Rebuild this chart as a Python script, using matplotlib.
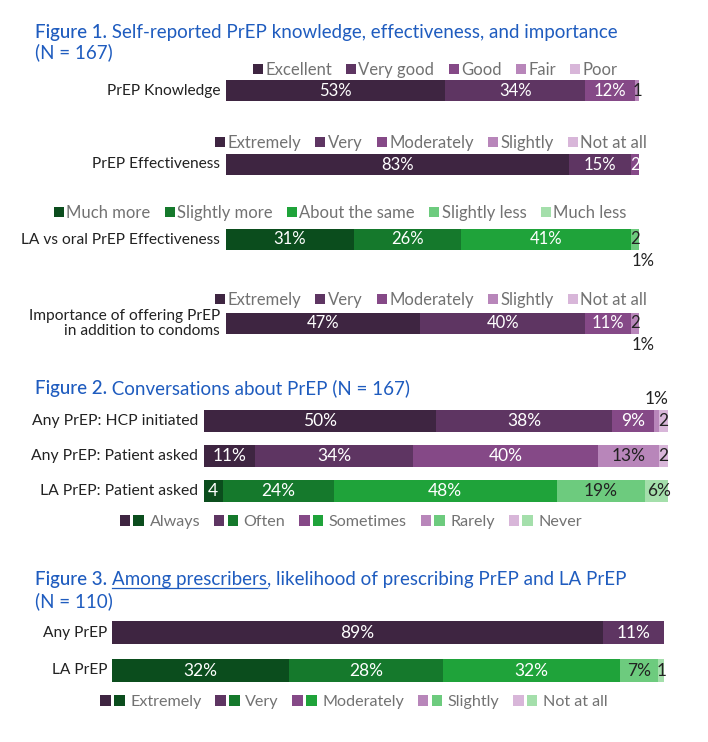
import matplotlib
matplotlib.use("Agg")
import matplotlib.pyplot as plt
from matplotlib.patches import Patch
from matplotlib.legend_handler import HandlerTuple
from matplotlib.lines import Line2D

plt.rcParams['font.family'] = ['Lato', 'DejaVu Sans']

# ---------------- data ----------------
fig1_rows = ["PrEP Knowledge", "PrEP Effectiveness", "LA vs oral PrEP Effectiveness",
             "Importance of offering PrEP\nin addition to condoms"]
knowledge_cats = ["Excellent", "Very good", "Good", "Fair", "Poor"]
knowledge_vals = [53, 34, 12, 1, 0]
effect_cats = ["Extremely", "Very", "Moderately", "Slightly", "Not at all"]
effect_vals = [83, 15, 2, 0, 0]
laoral_cats = ["Much more", "Slightly more", "About the same", "Slightly less", "Much less"]
laoral_vals = [31, 26, 41, 2, 1]
importance_cats = ["Extremely", "Very", "Moderately", "Slightly", "Not at all"]
importance_vals = [47, 40, 11, 2, 1]

fig2_rows = ["Any PrEP: HCP initiated", "Any PrEP: Patient asked", "LA PrEP: Patient asked"]
fig2_cats = ["Always", "Often", "Sometimes", "Rarely", "Never"]
fig2_vals = [[50, 38, 9, 1, 2],
             [11, 34, 40, 13, 2],
             [4, 24, 48, 19, 6]]

fig3_rows = ["Any PrEP", "LA PrEP"]
fig3_cats = ["Extremely", "Very", "Moderately", "Slightly", "Not at all"]
fig3_vals = [[89, 11, 0, 0, 0],
             [32, 28, 32, 7, 1]]

# ---------------- style ----------------
PURPLES = ["#3e2541", "#5e3562", "#854987", "#b886ba", "#d8b6d9"]
GREENS = ["#0b4d1d", "#15792c", "#1fa33a", "#6dcb7e", "#a4dfab"]
BLUE = "#1f5cbf"
GREY = "#727272"
DARK = "#222222"

W, H = 708, 742
fig = plt.figure(figsize=(W / 100, H / 100), dpi=100)
fig.patch.set_facecolor("white")


def px_axes(x0, y0, x1, y1):
    ax = fig.add_axes([x0 / W, 1 - y1 / H, (x1 - x0) / W, (y1 - y0) / H])
    ax.set_xlim(0, 100)
    ax.axis("off")
    return ax


def fx(x):
    return x / W


def fy(y):
    return 1 - y / H


def stacked(ax, ypos, vals, colors, height, outside=None, fs=12):
    left = 0
    for i, v in enumerate(vals):
        if v <= 0:
            continue
        ax.barh(ypos, v, left=left, height=height, color=colors[i], linewidth=0)
        cx = left + v / 2
        tc = "white" if i < 3 else DARK
        if v >= 5:
            ax.text(cx, ypos, f"{v}%", ha="center", va="center", color=tc, fontsize=fs)
        elif outside and i in outside:
            where = outside[i]
            if where == "below":
                ax.text(cx + 0.6, ypos + height / 2 + 0.12, f"{v}%", ha="center", va="top",
                        color=DARK, fontsize=fs)
            else:
                ax.text(cx, ypos - height / 2 - 0.1, f"{v}%", ha="center", va="bottom",
                        color=DARK, fontsize=fs)
        else:
            ax.text(cx, ypos, f"{v}", ha="center", va="center", color=tc, fontsize=fs)
        left += v


def title(x, y, pieces, fs=13.5):
    fig.canvas.draw()
    r = fig.canvas.get_renderer()
    cx = x
    for txt, weight, ul in pieces:
        t = fig.text(fx(cx), fy(y), txt, color=BLUE, fontsize=fs, fontweight=weight,
                     ha="left", va="baseline")
        bb = t.get_window_extent(renderer=r)
        if ul:
            line = Line2D([fx(cx), fx(cx + bb.width)], [fy(y + 3), fy(y + 3)],
                          color=BLUE, lw=0.9, transform=fig.transFigure)
            fig.add_artist(line)
        cx += bb.width


def legend_simple(cats, colors, xc, yc):
    handles = [Patch(facecolor=c, edgecolor="none") for c in colors]
    fig.legend(handles, cats, loc="center", bbox_to_anchor=(fx(xc), fy(yc)), ncol=5,
               frameon=False, handlelength=0.6, handleheight=0.6, handletextpad=0.15,
               columnspacing=0.85, fontsize=12, labelcolor=GREY, borderpad=0)


def legend_double(cats, xc, yc):
    handles = [(Patch(facecolor=p, edgecolor="none"), Patch(facecolor=g, edgecolor="none"))
               for p, g in zip(PURPLES, GREENS)]
    fig.legend(handles, cats, loc="center", bbox_to_anchor=(fx(xc), fy(yc)), ncol=5,
               frameon=False, handler_map={tuple: HandlerTuple(ndivide=None, pad=0.2)},
               handlelength=1.5, handleheight=0.65, handletextpad=0.35, columnspacing=0.85,
               fontsize=11.6, labelcolor=GREY, borderpad=0)


# ---------------- Figure 1 ----------------
title(35, 38, [("Figure 1.", "medium", False),
               (" Self-reported PrEP knowledge, effectiveness, and importance", "normal", False)])
title(35, 58, [("(N = 167)", "normal", False)])

fig1_specs = [
    (knowledge_vals, knowledge_cats, PURPLES, (80, 101), 70, 435, None),
    (effect_vals, effect_cats, PURPLES, (154, 175), 143, 431, None),
    (laoral_vals, laoral_cats, GREENS, (229, 250), 213, 340, {4: "below"}),
    (importance_vals, importance_cats, PURPLES, (313, 334), 300, 431, {4: "below"}),
]
for (vals, cats, cols, (y0, y1), ly, lx, outside), name in zip(fig1_specs, fig1_rows):
    ax = px_axes(226, y0, 639, y1)
    ax.set_ylim(0.5, -0.5)
    stacked(ax, 0, vals, cols, 1.0, outside=outside)
    fig.text(fx(220), fy((y0 + y1) / 2), name, ha="right", va="center", fontsize=11.2,
             color=DARK, linespacing=1.1)
    legend_simple(cats, cols, lx, ly)

# ---------------- Figure 2 ----------------
title(35, 394, [("Figure 2.", "medium", False),
                (" Conversations about PrEP (N = 167)", "normal", False)])
ax2 = px_axes(204, 410, 668, 502)
bh2 = 22 / 35
ax2.set_ylim(2 + bh2 / 2, -bh2 / 2)
for i, vals in enumerate(fig2_vals):
    cols = GREENS if fig2_rows[i].startswith("LA") else PURPLES
    stacked(ax2, i, vals, cols, bh2, outside={3: "above"} if i == 0 else None, fs=12.5)
    fig.text(fx(198), fy(421 + 35 * i), fig2_rows[i], ha="right", va="center",
             fontsize=11.3, color=DARK)
legend_double(fig2_cats, 351, 522)

# ---------------- Figure 3 ----------------
title(35, 585, [("Figure 3.", "medium", False), (" ", "normal", False),
                ("Among prescribers", "normal", True),
                (", likelihood of prescribing PrEP and LA PrEP", "normal", False)])
title(35, 607, [("(N = 110)", "normal", False)])
ax3 = px_axes(112, 621, 664, 682)
bh3 = 23 / 38
ax3.set_ylim(1 + bh3 / 2, -bh3 / 2)
for i, vals in enumerate(fig3_vals):
    cols = GREENS if fig3_rows[i].startswith("LA") else PURPLES
    stacked(ax3, i, vals, cols, bh3, fs=12.5)
    fig.text(fx(107), fy(632.5 + 38 * i), fig3_rows[i], ha="right", va="center",
             fontsize=11.2, color=DARK)
legend_double(fig3_cats, 354, 702)

fig.savefig("out.png", dpi=100, facecolor="white")
